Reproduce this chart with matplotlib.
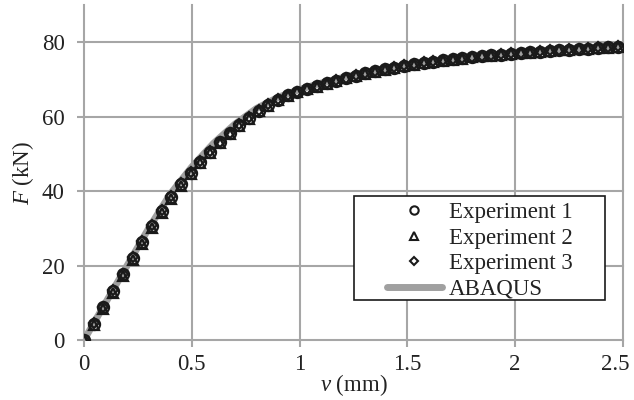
import matplotlib
matplotlib.use("Agg")
import matplotlib.pyplot as plt
from matplotlib.patches import Rectangle
from matplotlib.transforms import ScaledTranslation

plt.rcParams["font.family"] = ["Liberation Serif", "DejaVu Serif"]
plt.rcParams["mathtext.fontset"] = "custom"
plt.rcParams["mathtext.rm"] = "Liberation Serif"
plt.rcParams["mathtext.it"] = "Liberation Serif:italic"

# Measured load-displacement data (v in mm, F in kN)
v_exp = [0.0, 0.045, 0.09, 0.135, 0.18, 0.225, 0.27, 0.315, 0.36, 0.405,
         0.45, 0.495, 0.54, 0.585, 0.63, 0.675, 0.72, 0.765, 0.81, 0.855,
         0.9, 0.945, 0.99, 1.035, 1.08, 1.125, 1.17, 1.215, 1.26, 1.305,
         1.35, 1.395, 1.44, 1.485, 1.53, 1.575, 1.62, 1.665, 1.71, 1.755,
         1.8, 1.845, 1.89, 1.935, 1.98, 2.025, 2.07, 2.115, 2.16, 2.205,
         2.25, 2.295, 2.34, 2.385, 2.43, 2.475]

F_exp1 = [0.0, 4.4, 8.8, 13.2, 17.6, 22.0, 26.3, 30.6, 34.6, 38.4,
          41.9, 44.9, 47.8, 50.6, 53.1, 55.5, 57.7, 59.7, 61.6, 63.2,
          64.6, 65.7, 66.6, 67.4, 68.2, 69.0, 69.7, 70.4, 71.0, 71.6,
          72.2, 72.7, 73.2, 73.7, 74.1, 74.5, 74.8, 75.1, 75.4, 75.7,
          76.0, 76.3, 76.5, 76.7, 76.9, 77.1, 77.3, 77.5, 77.7, 77.9,
          78.0, 78.2, 78.3, 78.5, 78.6, 78.8]

F_exp2 = [0.0, 4.0, 8.3, 12.7, 17.1, 21.5, 25.8, 30.1, 34.1, 37.9,
          41.5, 44.6, 47.5, 50.3, 52.9, 55.3, 57.5, 59.5, 61.4, 63.0,
          64.4, 65.5, 66.5, 67.3, 68.1, 68.9, 69.6, 70.3, 70.9, 71.5,
          72.1, 72.6, 73.1, 73.6, 74.0, 74.4, 74.7, 75.0, 75.3, 75.6,
          75.9, 76.2, 76.4, 76.6, 76.8, 77.0, 77.2, 77.4, 77.6, 77.8,
          77.9, 78.1, 78.2, 78.4, 78.5, 78.7]

F_exp3 = [0.0, 4.6, 9.0, 13.4, 17.8, 22.2, 26.5, 30.8, 34.8, 38.6,
          42.1, 45.1, 48.0, 50.8, 53.3, 55.7, 57.9, 59.9, 61.7, 63.3,
          64.7, 65.8, 66.7, 67.5, 68.3, 69.1, 69.8, 70.5, 71.1, 71.7,
          72.3, 72.8, 73.3, 73.8, 74.2, 74.6, 74.9, 75.2, 75.5, 75.8,
          76.1, 76.4, 76.6, 76.8, 77.0, 77.2, 77.4, 77.6, 77.8, 78.0,
          78.1, 78.3, 78.4, 78.6, 78.7, 78.9]

# FE model curve
v_fe = [0.0, 0.1, 0.2, 0.3, 0.4, 0.5, 0.6, 0.7, 0.8, 0.9, 1.0, 1.1, 1.2,
        1.3, 1.4, 1.5, 1.6, 1.7, 1.8, 1.9, 2.0, 2.1, 2.2, 2.3, 2.4, 2.5]
F_fe = [0.0, 10.0, 20.0, 30.0, 39.2, 46.5, 52.8, 58.0, 62.2, 65.2, 67.3,
        69.0, 70.5, 71.8, 72.9, 73.9, 74.7, 75.4, 76.0, 76.6, 77.1, 77.5,
        77.9, 78.3, 78.6, 78.9]

x_ticks = [0, 0.5, 1, 1.5, 2, 2.5]
x_ticklabels = ["0", "0.5", "1", "1.5", "2", "2.5"]
y_ticks = [0, 20, 40, 60, 80]

grid_col = "#a6a6a6"
text_col = "#222222"
fs = 16.5

fig = plt.figure(figsize=(6.34, 4.0), dpi=100)
ax = fig.add_axes([0.1325, 0.15, 0.8501, 0.8375])

mk = dict(linestyle="none", markerfacecolor="none", markeredgecolor="#1a1a1a",
          markeredgewidth=1.6, zorder=3)
ax.plot(v_exp, F_exp1, marker="o", markersize=8, label="Experiment 1", **mk)
ax.plot(v_exp, F_exp2, marker="^", markersize=7.5, label="Experiment 2", **mk)
ax.plot(v_exp, F_exp3, marker="D", markersize=5.5, label="Experiment 3", **mk)
ax.plot(v_fe, F_fe, color="#a0a0a0", linewidth=5, solid_capstyle="round",
        label="ABAQUS", zorder=2)

ax.set_xlim(0, 2.5)
ax.set_ylim(0, 90)
ax.set_xticks(x_ticks)
ax.set_xticklabels(x_ticklabels)
ax.set_yticks(y_ticks)

for s in ax.spines.values():
    s.set_visible(False)
ax.grid(True, color=grid_col, linewidth=1.5)
ax.set_axisbelow(True)
for ln in ax.get_xgridlines() + ax.get_ygridlines():
    ln.set_clip_on(False)
ax.tick_params(axis="both", direction="out", length=5, width=1.5,
               color=grid_col, labelsize=fs, labelcolor=text_col)
ax.tick_params(axis="x", pad=5)
ax.tick_params(axis="y", pad=9)

# keep the last x label inside the figure
last = ax.get_xticklabels()[-1]
last.set_transform(last.get_transform() +
                   ScaledTranslation(-8 / 100, 0, fig.dpi_scale_trans))

ax.set_xlabel("$v$ (mm)", fontsize=fs, color=text_col, labelpad=-2)
ax.set_ylabel("$F$ (kN)", fontsize=fs, color=text_col, labelpad=4)

# legend frame drawn separately so the side padding can be wider than the top
box = Rectangle((0.501, 0.1194), 0.4656, 0.3105, transform=ax.transAxes,
                facecolor="white", edgecolor="#1a1a1a", linewidth=1.2,
                zorder=4)
ax.add_patch(box)
leg = ax.legend(loc="center", bbox_to_anchor=(0.7338, 0.2656), frameon=False,
                fontsize=fs, handlelength=2.4, handletextpad=0.3,
                labelspacing=0.2, borderpad=0, borderaxespad=0)
leg.set_zorder(5)
for t in leg.get_texts():
    t.set_color(text_col)
for h, ms in zip(leg.legend_handles[:3], [6, 6, 4.5]):
    h.set_markersize(ms)
    h.set_markeredgewidth(1.5)

fig.savefig("out.png", dpi=100)
